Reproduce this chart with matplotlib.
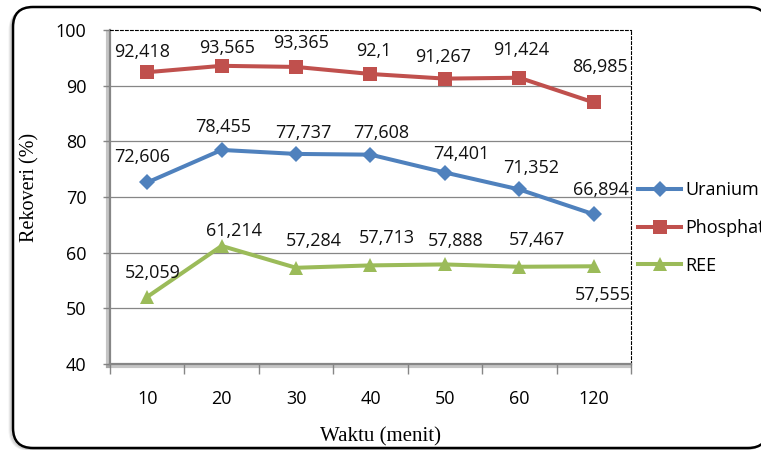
import matplotlib.pyplot as plt
import matplotlib.patheffects as pe
from matplotlib.patches import FancyBboxPatch

# Recovery (%) against time (minutes)
waktu = ["10", "20", "30", "40", "50", "60", "120"]
uranium = [72.606, 78.455, 77.737, 77.608, 74.401, 71.352, 66.894]
phosphate = [92.418, 93.565, 93.365, 92.1, 91.267, 91.424, 86.985]
ree = [52.059, 61.214, 57.284, 57.713, 57.888, 57.467, 57.555]

# label nudges in pixels (dx, dy up)
uranium_off = [(-5, 25), (1, 23), (7, 21), (11, 22), (16, 19), (12, 21), (7, 24)]
phosphate_off = [(-5, 20), (5, 18), (5, 24), (3, 23), (-2, 22), (2, 28), (6, 35)]
ree_off = [(6, 24), (12, 15), (18, 27), (16, 27), (11, 23), (18, 27), (9, -29)]

W, H = 761, 450
SANS = "Open Sans"
SERIF = "Liberation Serif"
GRAY = "#868686"
FS = 13

fig = plt.figure(figsize=(W / 100, H / 100), dpi=100)

# rounded outer frame with a soft shadow on the left/bottom
def frame(x0, y0, x1, y1, **kw):
    return FancyBboxPatch((x0 / 100, (H - y1) / 100), (x1 - x0) / 100, (y1 - y0) / 100,
                          boxstyle="round,pad=0,rounding_size=0.2",
                          transform=fig.dpi_scale_trans, zorder=-5, **kw)

for i, a in enumerate([0.10, 0.08, 0.05]):
    d = i + 1.5
    fig.patches.append(frame(13 - d, 7 + d, 768 - d, 448 + d * 0.5,
                             facecolor="none", edgecolor="black", lw=1.5, alpha=a))
fig.patches.append(frame(13, 7, 768, 448, facecolor="white", edgecolor="black", lw=1.8))

left, top, right, bottom = 110, 30, 631, 364
ax = fig.add_axes([left / W, 1 - bottom / H, (right - left) / W, (bottom - top) / H])
ax.set_facecolor("none")

x = range(len(waktu))
series = [
    ("Uranium", uranium, uranium_off, "#4F81BD", "D", 8),
    ("Phosphate", phosphate, phosphate_off, "#C0504D", "s", 10.5),
    ("REE", ree, ree_off, "#9BBB59", "^", 10.5),
]
for name, vals, offs, color, mk, ms in series:
    ax.plot(x, vals, color=color, lw=2.9, marker=mk, markersize=ms,
            markeredgewidth=0, label=name, zorder=3)
    for xi, v, (dx, dy) in zip(x, vals, offs):
        ax.annotate(str(v).replace(".", ","), (xi, v), xytext=(dx * 0.72, dy * 0.72),
                    textcoords="offset points", ha="center", va="center",
                    fontsize=FS, family=SANS, color="#111111", zorder=4)

ax.set_xlim(-0.5, len(waktu) - 0.5)
ax.set_ylim(40, 100)
yt = [40, 50, 60, 70, 80, 90, 100]
ax.set_yticks(yt)
for y in yt[1:-1]:
    ax.axhline(y, color=GRAY, lw=0.9, zorder=1)

ax.set_xticks(list(x))
ax.set_xticklabels(waktu)
ax.set_xticks([i - 0.5 for i in range(len(waktu) + 1)], minor=True)
ax.tick_params(axis="x", which="major", length=0, pad=19)
ax.tick_params(axis="x", which="minor", length=7, width=1, color=GRAY)
ax.tick_params(axis="y", length=5, width=1, color=GRAY, pad=12)
for lab in ax.get_xticklabels() + ax.get_yticklabels():
    lab.set_fontfamily(SANS)
    lab.set_fontsize(FS)

for s in ("top", "right"):
    ax.spines[s].set_linestyle((0, (2.5, 2)))
    ax.spines[s].set_linewidth(0.8)
    ax.spines[s].set_color("black")
for s in ("left", "bottom"):
    ax.spines[s].set_color(GRAY)
    ax.spines[s].set_linewidth(1.6)
    ax.spines[s].set_path_effects([
        pe.SimpleLineShadow(offset=(-1.5, -1.5), shadow_color="gray", alpha=0.45, linewidth=3),
        pe.Normal()])

ax.set_xlabel("Waktu (menit)", fontsize=15, family=SERIF, va="center")
ax.set_ylabel("Rekoveri (%)", fontsize=14.5, family=SERIF, va="center")
ax.xaxis.set_label_coords((381 - left) / (right - left), -(437 - bottom) / (bottom - top))
ax.yaxis.set_label_coords(-(left - 30) / (right - left), (bottom - 187) / (bottom - top))

ax.legend(loc="upper left", bbox_to_anchor=(638 / W, 1 - 181 / H),
          bbox_transform=fig.transFigure, frameon=False, borderpad=0, borderaxespad=0,
          handlelength=2.4, handletextpad=0.2, labelspacing=1.1,
          prop={"family": SANS, "size": FS})

fig.savefig("out.png", dpi=100)
